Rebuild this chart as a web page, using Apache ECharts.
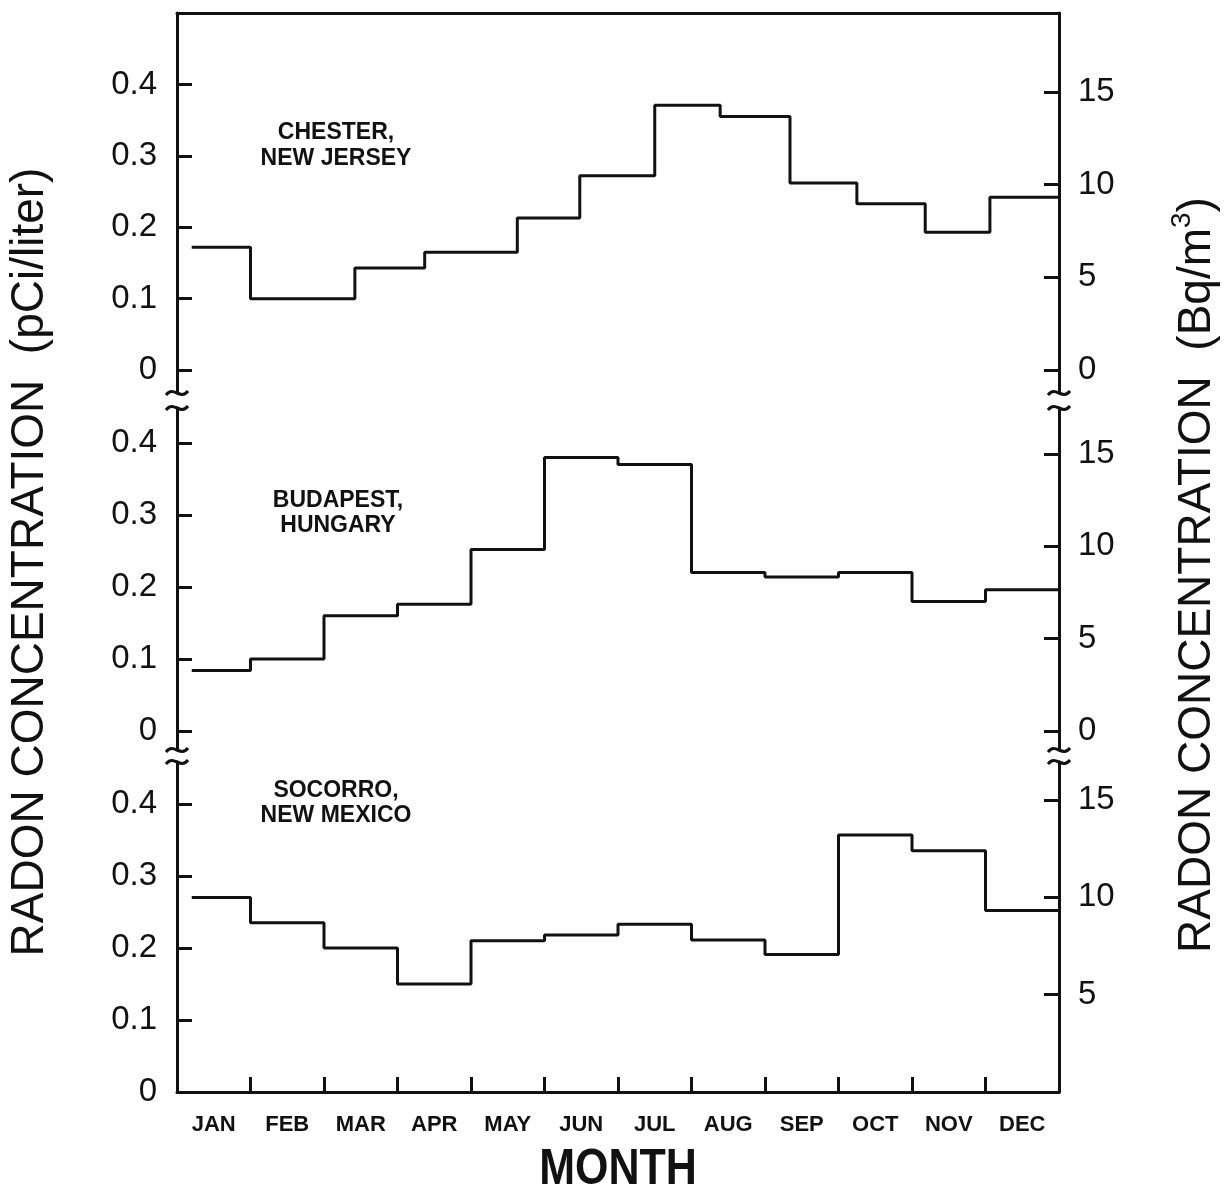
<!DOCTYPE html>
<html><head><meta charset="utf-8">
<script src="https://cdn.jsdelivr.net/npm/echarts@6/dist/echarts.min.js"></script>
<style>html,body{margin:0;padding:0;background:#fff}#c{width:1225px;height:1190px}</style>
</head><body><div id="c"></div>
<script>
// ---------- data ----------
const months = ['JAN','FEB','MAR','APR','MAY','JUN','JUL','AUG','SEP','OCT','NOV','DEC'];
const monthEdges = [0.2,1,2,3,4,5,6,7,8,9,10,11,12];
const chesterEdges = [0.2,1.0,2.42,3.37,4.63,5.48,6.5,7.39,8.34,9.25,10.18,11.06,12];
const chesterValues = [0.172,0.100,0.143,0.165,0.213,0.272,0.371,0.355,0.262,0.233,0.193,0.242];
const budapestValues = [0.084,0.100,0.160,0.176,0.252,0.380,0.370,0.220,0.214,0.220,0.180,0.196];
const socorroValues = [0.270,0.235,0.200,0.150,0.210,0.218,0.233,0.211,0.191,0.357,0.335,0.252];
const leftTicks = [0,0.1,0.2,0.3,0.4];
const rightTicks = [0,5,10,15];
const rightTicksBottom = [5,10,15];
const monthTicks = [1,2,3,4,5,6,7,8,9,10,11];
const monthLabelPos = [0.5,1.5,2.5,3.5,4.5,5.5,6.5,7.5,8.5,9.5,10.5,11.5];
const panelNames = ['CHESTER,\nNEW JERSEY','BUDAPEST,\nHUNGARY','SOCORRO,\nNEW MEXICO'];
const leftTitle = 'RADON CONCENTRATION  (pCi/liter)';
const rightTitleMain = 'RADON CONCENTRATION  (Bq/m';
const rightTitleSup = '3';
const rightTitleEnd = ')';
const xTitle = 'MONTH';

// ---------- layout ----------
const GL = 177, GW = 882;
const panels = [
  {top:13,  height:380, min:-0.032,  max:0.5,    k:38.5, rt:rightTicks,       label:[336,146,26]},
  {top:408, height:342, min:-0.0264, max:0.4486, k:39,   rt:rightTicks,       label:[338,513,25]},
  {top:762, height:330, min:0,       max:0.4583, k:37,   rt:rightTicksBottom, label:[336,803,25]}
];
const seriesSets = [
  [chesterEdges, chesterValues],
  [monthEdges, budapestValues],
  [monthEdges, socorroValues]
];
const FONT = "'Liberation Sans', Arial, Helvetica, sans-serif";
const BLK = '#111';

function stepData(edges, vals){
  const d = vals.map((v,i)=>[edges[i], v]);
  d.push([edges[edges.length-1], vals[vals.length-1]]);
  return d;
}

const grids = [], xAxes = [], yAxes = [], series = [], graphics = [];
panels.forEach((p,i)=>{
  grids.push({left:GL, width:GW, top:p.top, height:p.height, containLabel:false});
  const xa = {type:'value', gridIndex:i, min:0, max:12, splitLine:{show:false},
    axisLine:{show:false, onZero:false}, axisTick:{show:false}, axisLabel:{show:false}};
  if (i===0){
    xa.position='top';
    xa.axisLine={show:true,onZero:false,lineStyle:{color:BLK,width:3}};
  }
  if (i===2){
    xa.position='bottom';
    xa.axisLine={show:true,onZero:false,lineStyle:{color:BLK,width:3}};
    xa.axisTick={show:true,inside:true,length:15,customValues:monthTicks,lineStyle:{color:BLK,width:3}};
    xa.axisLabel={show:true,customValues:monthLabelPos,margin:22,fontSize:22,fontWeight:'bold',
      fontFamily:FONT,color:BLK,formatter:v=>months[Math.floor(v)]};
  }
  xAxes.push(xa);
  yAxes.push({type:'value', gridIndex:i, position:'left', min:p.min, max:p.max,
    splitLine:{show:false},
    axisLine:{show:true,onZero:false,lineStyle:{color:BLK,width:3}},
    axisTick:{show:true,inside:true,length:15,customValues:leftTicks,lineStyle:{color:BLK,width:3}},
    axisLabel:{customValues:leftTicks,margin:20,fontSize:33,fontFamily:FONT,color:BLK,
      formatter:v=> v===0?'0':v.toFixed(1)}
  });
  yAxes.push({type:'value', gridIndex:i, position:'right', min:p.min*p.k, max:p.max*p.k,
    splitLine:{show:false},
    axisLine:{show:true,onZero:false,lineStyle:{color:BLK,width:3}},
    axisTick:{show:true,inside:true,length:15,customValues:p.rt,lineStyle:{color:BLK,width:3}},
    axisLabel:{customValues:p.rt,margin:19,fontSize:33,fontFamily:FONT,color:BLK,
      formatter:v=>String(v)}
  });
  const [edges, vals] = seriesSets[i];
  series.push({type:'line', xAxisIndex:i, yAxisIndex:2*i, step:'end', symbol:'none',
    silent:true, animation:false, lineStyle:{color:BLK,width:3}, data:stepData(edges, vals)});
  const [lx,ly,lh] = p.label;
  graphics.push({type:'text', x:lx, y:ly, silent:true,
    style:{text:panelNames[i], font:"bold 23px "+FONT, fill:BLK, align:'center', verticalAlign:'middle', lineHeight:lh}});
});

// axis break marks (decorative)
const breakYs = [panels[0].top+panels[0].height, panels[1].top, panels[1].top+panels[1].height, panels[2].top];
[GL, GL+GW].forEach(ax=>{
  breakYs.forEach(by=>{
    graphics.push({type:'bezierCurve', silent:true,
      shape:{x1:ax-11,y1:by+2,x2:ax+11,y2:by-2,cpx1:ax-3,cpy1:by-8,cpx2:ax+3,cpy2:by+8},
      style:{stroke:BLK,lineWidth:3,fill:null}});
  });
});

graphics.push({type:'text', x:30, y:562, rotation:Math.PI/2, silent:true,
  style:{text:leftTitle, font:"46px "+FONT, fill:BLK, align:'center', verticalAlign:'middle'}});
graphics.push({type:'text', x:1194, y:575, rotation:Math.PI/2, silent:true,
  style:{text:'{a|'+rightTitleMain+'}{s|'+rightTitleSup+'}{a|'+rightTitleEnd+'}',
    align:'center', verticalAlign:'middle', fill:BLK,
    rich:{
      a:{fontSize:46, fontFamily:FONT, fill:BLK, verticalAlign:'bottom', lineHeight:52},
      s:{fontSize:28, fontFamily:FONT, fill:BLK, verticalAlign:'top', lineHeight:52, padding:[0,0,22,0]}
    }}});
graphics.push({type:'text', x:618, y:1170, scaleX:0.86, silent:true,
  style:{text:xTitle, font:"bold 50px "+FONT, fill:BLK, align:'center', verticalAlign:'middle'}});

const chart = echarts.init(document.getElementById('c'), null, {renderer:'canvas'});
chart.setOption({
  animation:false,
  backgroundColor:'#fff',
  grid:grids, xAxis:xAxes, yAxis:yAxes, series:series, graphic:graphics
});
</script>
</body></html>
